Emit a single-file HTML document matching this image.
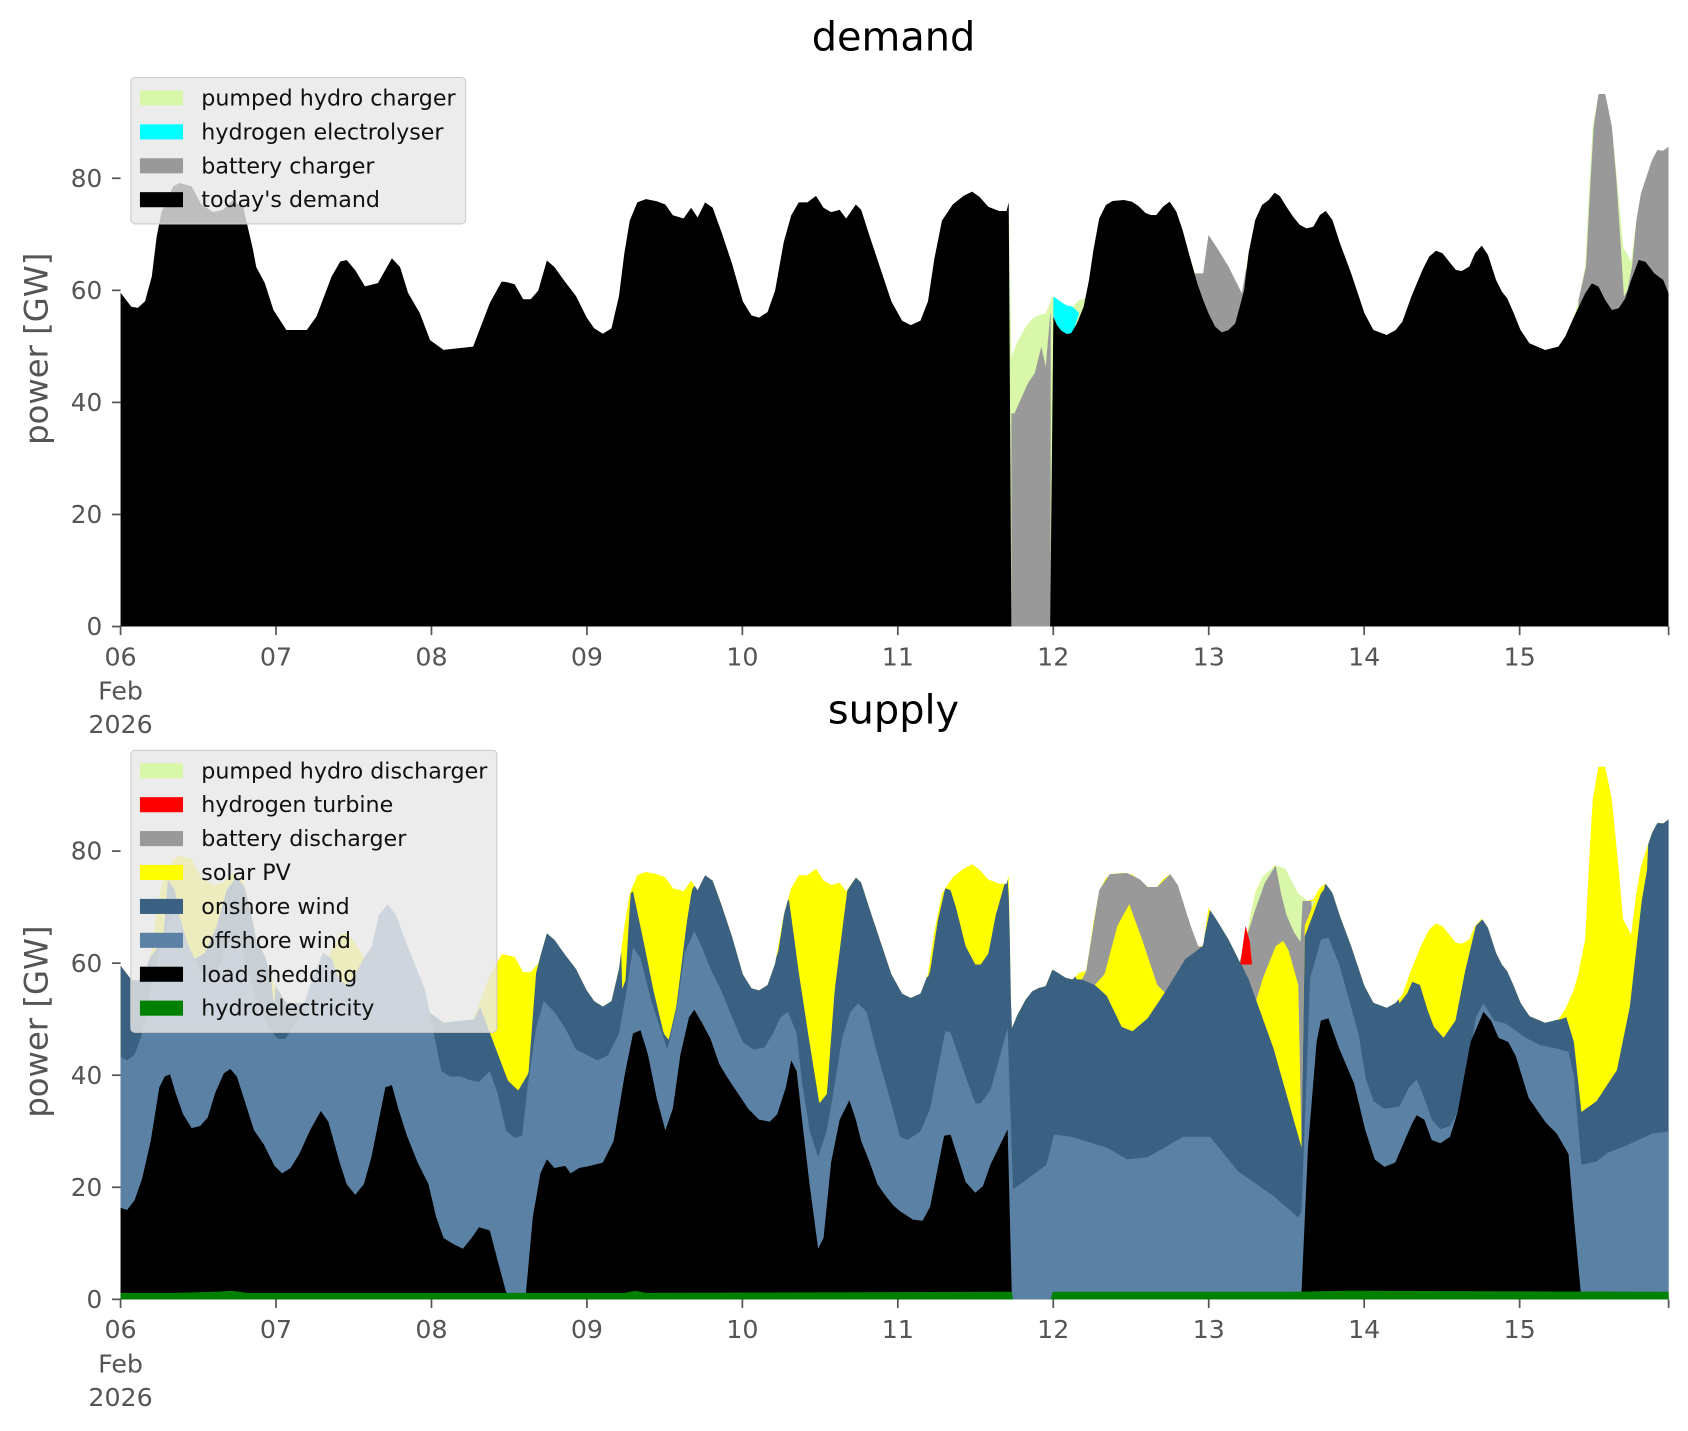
<!DOCTYPE html>
<html><head><meta charset="utf-8"><style>
html,body{margin:0;padding:0;background:#fff;}
svg{display:block;}
text{font-family:"DejaVu Sans","Liberation Sans",sans-serif;}
</style></head><body>
<svg id="s" xmlns="http://www.w3.org/2000/svg" width="1688" height="1431" viewBox="0 0 1568 1329.3" preserveAspectRatio="none">
<rect width="1568" height="1330" fill="#fff"/>
<g id="up"></g>
<g id="lo"></g>
<g id="ax"></g>
</svg>
<script>
const NS="http://www.w3.org/2000/svg";
const S=1/1.0765;
function z3(a){return a.map(([px,py])=>[(990+px*0.4458)*S,(80+py/3)*S]);}
function el(parent,tag,attrs,txt){const e=document.createElementNS(NS,tag);for(const k in attrs)e.setAttribute(k,attrs[k]);if(txt!==undefined)e.textContent=txt;document.getElementById(parent).appendChild(e);return e;}
function ptsStr(p){return p.map(q=>q[0].toFixed(1)+","+q[1].toFixed(1)).join(" ");}
function poly(g,pts,base,fill){let p=pts.slice();if(base!==null){p=p.concat([[pts[pts.length-1][0],base],[pts[0][0],base]]);}el(g,"polygon",{points:ptsStr(p),fill:fill});}
function interp(list,x){if(x<=list[0][0])return list[0][1];for(let i=1;i<list.length;i++){if(x<=list[i][0]){const a=list[i-1],b=list[i];if(b[0]===a[0])return b[1];return a[1]+(b[1]-a[1])*(x-a[0])/(b[0]-a[0]);}}return list[list.length-1][1];}

const PG="#d9f7a9",GR="#999999",ON="#3b6182",OFF="#5b82a4";
const B1=[[112,272],[122,285],[128,286],[134.7,280],[141,257],[145.5,220],[150,197],[161,173],[167,170],[178,173],[187,190],[198,197],[207,195],[216,186],[226,193],[235,232],[238,248],[246,263],[254,288],[266,306.5],[285,306.5],[294,294],[308,257],[316,243],[322,241.5],[330,251],[339,266],[351,263],[364,240],[371.6,248],[379,272],[390,291],[399.5,316],[412,325],[439.5,322],[455,281.5],[466,261.6],[470,262],[478,264],[486,278],[493,278],[500,270],[508,242],[515,248],[525,262],[535,275],[545,295],[552,305],[560,310],[568,305],[575,275],[580,235],[585,205],[592,188],[600,185],[610,187],[618,190],[625,200],[635,203],[642,193],[648,202],[655,188],[662,193],[670,215],[680,245],[690,280],[698,293],[705,295],[713,290],[720,270],[728,225],[735,200],[742,188],[750,188],[758,182],[765,193],[772,197],[780,195],[786,203],[795,190],[800,195],[808,220],[818,250],[828,280],[838,298],[846,302],[855,298],[862,280],[868,240],[875,205],[885,190],[895,182],[903,178],[910,183],[918,192],[928,196],[935,196],[937,188]];
const B2raw=[[142,710],[150,735],[160,752],[172,762],[182,760],[195,730],[210,680],[222,600],[232,510],[245,415],[260,375],[275,363],[300,360],[318,365],[333,378],[348,398],[360,405],[373,405],[388,380],[403,365],[418,395],[432,450],[448,530],[465,610],[478,660],[490,700],[505,740],[520,757],[535,750],[550,730],[560,680],[570,630],[580,520],[595,420],[610,375],[625,360],[638,338],[650,348],[665,380],[680,410],[695,435],[710,445],[725,440],[740,405],[753,393],[768,420],[785,490],[810,580],[840,700],[860,750],[890,765],[910,750],[925,725],[945,650],[970,570],[985,530],[1000,512],[1015,520],[1030,545],[1045,570],[1058,573],[1075,560],[1088,520],[1103,497],[1117,525],[1135,600],[1148,635],[1160,655],[1175,700],[1190,750],[1210,790],[1245,810],[1275,800],[1290,770],[1310,710],[1335,640],[1350,610],[1365,620],[1380,660],[1395,690],[1410,685],[1425,655],[1438,600],[1455,540],[1470,545],[1490,580],[1510,600],[1522,640]];
const gray13=[[460,580],[478,580],[490,465],[510,505],[535,560],[550,600],[565,640],[575,560]];
const endTop=[[1320,660],[1335,560],[1345,300],[1352,140],[1365,42],[1380,42],[1395,140],[1410,350],[1420,500],[1438,545],[1450,420],[1460,340],[1470,300],[1485,240],[1497,210],[1510,212],[1522,200]];
const grayEnd=[[1320,660],[1337,560],[1347,300],[1354,140],[1365,42],[1380,42],[1395,140],[1405,300],[1415,500],[1422,650],[1430,630],[1440,560],[1450,420],[1460,340],[1470,300],[1485,240],[1497,210],[1510,212],[1522,200]];
const paleU=[[48,830],[60,790],[80,740],[95,715],[110,705],[125,700],[140,650],[170,675],[185,680],[200,660],[215,655]];
const totalU=B1.concat(z3(paleU),z3(B2raw.filter(p=>p[0]>215&&p[0]<460)),z3(gray13),z3(B2raw.filter(p=>p[0]>575&&p[0]<1320)),z3(endTop));
const BU=582;
poly("up",totalU,BU,PG);
poly("up",z3([[48,1000],[55,1000],[85,910],[100,880],[115,800],[125,860],[135,700],[136,700]]),BU,GR);
poly("up",z3(gray13),BU,GR);
poly("up",z3(grayEnd),BU,GR);
el("up","polygon",{points:ptsStr(z3([[142,650],[170,675],[185,680],[200,700],[185,760],[172,762],[160,752],[150,735],[142,710]])),fill:"#00ffff"});
const blackU=B1.concat([[939.5,582],[975.5,582]],z3(B2raw));
poly("up",blackU,BU,"#000");

const base=1207;
const totalS=totalU.map(p=>[p[0],p[1]+625]);
poly("lo",totalS,base,"#ffff00");
poly("lo",[[1155,896],[1160,860],[1166,830],[1173,814],[1185,804],[1194,807],[1206,830],[1215,837],[1222,837]],base,PG);
poly("lo",[[1000,915],[1004,912],[1009,902],[1021,827],[1031,812],[1047,811],[1059,817],[1066,824],[1075,824],[1087,812],[1094,822],[1106,860],[1113,879],[1120,880]],base,GR);
poly("lo",[[1150,900],[1155,880],[1166,845],[1175,820],[1185,804],[1190,830],[1195,850],[1202,866],[1208,875],[1210,837],[1218,837],[1220,870]],base,GR);
el("lo","polygon",{points:"1152,896 1157,860 1161,875 1163,896",fill:"#ff0000"});
poly("lo",[[1017,915],[1026,905],[1038,860],[1049,840],[1061,873],[1075,915],[1082,922]],base,"#ffff00");
poly("lo",[[1160,910],[1166,932],[1173,909],[1185,879],[1192,874],[1197,883],[1206,915],[1209,1066],[1212,860],[1220,840],[1227,830]],base,"#ffff00");
const ONL=[[112.6,898],[121.2,907],[135.4,895],[151.6,873],[156,817.5],[162.6,827],[170,873],[179,892],[190.5,885],[201,861],[210.5,827],[220,814],[229,827],[238.4,861],[251,904],[254,929],[265.7,951],[277.6,942],[291.8,920],[300,910],[316,957],[325,1003],[332,1016],[339.2,982],[348.7,911],[358.2,873],[365.3,864],[374.8,880],[386.6,904],[396.1,926],[405.6,945],[417.4,957],[429.3,954],[438.7,951],[445.9,935],[453,954],[462.4,979],[471.9,1004],[481.4,1013],[490.9,997],[498,904],[507.5,866],[519.3,883],[531.2,898],[543,920],[557.2,934],[571.5,935],[581,911],[585.7,830],[588,828],[597.5,873],[607,920],[616.5,960],[621.2,966],[628.3,935],[637.8,858],[642.6,827],[652,811],[663.9,842],[675.7,873],[690,911],[701.8,921],[713.7,914],[723.1,883],[731.7,827],[742.1,904],[751.6,966],[761.1,1025],[768.2,1016],[775.3,920],[787.1,827],[796.6,813],[803.7,821],[813.2,858],[827.4,898],[836,918],[845,928],[857,922],[864,902],[871,856],[878,825],[883,827],[888,843],[897,879],[906,896],[911,896],[918,886],[925,850],[936,811],[943,959],[958,923],[972,917],[979,902],[988,909],[1005,910],[1017,915],[1028,925],[1042,954],[1052,958],[1066,946],[1082,922],[1101,891],[1117,879],[1124,845],[1141,871],[1160,910],[1183,974],[1209,1066],[1212,870],[1227,830],[1234,821],[1240,830],[1249,856],[1258,883],[1268,909],[1277,928],[1286,935],[1300,932],[1307,923],[1312,912],[1319,915],[1326,938],[1332,954],[1341,964],[1352,948],[1361,902],[1371,860],[1378,853],[1385,863],[1392,883],[1403,902],[1417,935],[1427,948],[1436,950],[1446,948],[1455,945],[1462,968],[1469,1033],[1483,1023],[1502,994],[1514,935],[1525,837],[1535,778],[1542,763],[1550,762]];
const WIN=[[140,255],[296,352],[440,505],[578,650],[722,800],[862,940],[1000,1230],[1300,1385],[1448,1530]];
const onPts=[];
for(let x=112;x<=1550;x+=1){const t=interp(totalS,x);let y=t;if(WIN.some(w=>x>=w[0]&&x<=w[1])){y=Math.max(interp(ONL,x),t);}onPts.push([x,y]);}
poly("lo",onPts,base,ON);
const OFFL=[[112,982],[118,985],[125,980],[132,960],[140,920],[148,885],[155,858],[162,848],[168,855],[175,878],[185,900],[195,910],[205,895],[214,870],[222,870],[230,900],[240,935],[250,955],[258,965],[265,965],[272,955],[280,940],[290,910],[300,885],[308,890],[315,910],[322,915],[330,905],[338,890],[345,880],[352,850],[360,840],[368,850],[375,870],[385,895],[395,920],[402,955],[410,995],[418,1000],[428,1000],[435,1003],[445,1005],[455,995],[462,1015],[470,1050],[478,1057],[485,1055],[490,1010],[498,955],[505,930],[515,940],[525,955],[535,975],[545,980],[555,985],[565,980],[575,960],[582,920],[588,880],[595,890],[605,930],[615,960],[620,975],[628,940],[636,885],[645,865],[652,880],[660,900],[670,920],[680,945],[690,968],[700,975],[710,973],[718,960],[725,945],[732,940],[740,960],[745,1005],[752,1050],[760,1075],[768,1050],[775,1010],[782,965],[790,940],[797,932],[805,940],[813,972],[827,1022],[836,1056],[843,1059],[855,1051],[864,1030],[878,958],[883,959],[897,1000],[906,1025],[911,1025],[920,1013],[936,955],[941,1105],[972,1082],[979,1054],[995,1056],[1028,1066],[1047,1077],[1066,1075],[1099,1056],[1124,1056],[1150,1088],[1183,1111],[1206,1131],[1209,1125],[1217,909],[1227,873],[1234,871],[1244,896],[1253,928],[1262,961],[1269,1003],[1276,1023],[1286,1030],[1300,1028],[1309,1010],[1316,1003],[1323,1020],[1330,1040],[1338,1049],[1347,1046],[1354,1033],[1364,987],[1371,945],[1378,932],[1388,948],[1399,951],[1417,964],[1431,971],[1446,974],[1457,977],[1462,1000],[1469,1082],[1483,1079],[1493,1071],[1511,1064],[1535,1053],[1550,1051]];
poly("lo",OFFL,base,OFF);
const BLK=[[112,1122],[118,1124],[125,1115],[132,1095],[140,1060],[148,1010],[153,1000],[158,998],[163,1015],[170,1035],[178,1048],[186,1046],[193,1038],[200,1015],[208,997],[214,993],[220,1000],[228,1025],[236,1050],[245,1063],[255,1083],[262,1090],[270,1085],[278,1072],[288,1050],[298,1032],[305,1042],[315,1078],[322,1100],[330,1110],[338,1100],[345,1075],[352,1040],[358,1010],[364,1008],[370,1030],[378,1055],[388,1080],[398,1100],[405,1130],[412,1150],[420,1155],[430,1160],[438,1150],[445,1140],[455,1143],[462,1170],[470,1200],[475,1207],[488,1207],[495,1130],[502,1090],[508,1077],[515,1085],[525,1083],[530,1090],[538,1085],[548,1083],[560,1080],[570,1060],[580,1000],[588,960],[595,957],[602,980],[610,1020],[618,1050],[625,1030],[632,980],[640,945],[645,938],[652,950],[660,965],[668,988],[675,1000],[685,1015],[695,1030],[705,1040],[715,1042],[722,1035],[730,1010],[735,985],[740,995],[745,1040],[752,1100],[760,1160],[765,1150],[772,1080],[780,1040],[789,1022],[795,1040],[800,1060],[808,1080],[815,1100],[822,1110],[830,1120],[836,1125],[848,1133],[857,1134],[864,1121],[877,1055],[883,1054],[897,1098],[906,1108],[913,1102],[920,1082],[936,1049],[940,1207],[1207,1207],[1209,1200],[1215,1066],[1223,968],[1227,948],[1234,946],[1244,974],[1258,1007],[1268,1049],[1277,1077],[1286,1084],[1296,1080],[1305,1059],[1312,1043],[1316,1036],[1323,1040],[1330,1059],[1338,1062],[1347,1056],[1354,1033],[1366,968],[1378,940],[1385,948],[1392,964],[1401,968],[1408,981],[1420,1020],[1436,1043],[1446,1053],[1457,1072],[1462,1131],[1469,1207],[1550,1207]];
poly("lo",BLK,base,"#000");
el("lo","polygon",{points:"112,1201 160,1201 200,1200 215,1199 230,1201 580,1201 590,1199 600,1201 940,1200 941,1207 976,1207 978,1200 1200,1200 1250,1199 1550,1200 1550,1207 112,1207",fill:"#008000"});

function axes(y0){
  for(let v=0;v<=80;v+=20){const y=y0-v*5.205;el("ax","line",{x1:104,y1:y,x2:112,y2:y,stroke:"#555","stroke-width":1.6});
    el("ax","text",{x:95,y:y+8,"text-anchor":"end","font-size":23,fill:"#555"},String(v));}
  const days=["06","07","08","09","10","11","12","13","14","15"];
  for(let k=0;k<10;k++){const x=112+144.4*k;el("ax","line",{x1:x,y1:y0,x2:x,y2:y0+8,stroke:"#555","stroke-width":1.6});
    el("ax","text",{x:x,y:y0+36,"text-anchor":"middle","font-size":23.5,fill:"#555"},days[k]);}
  el("ax","line",{x1:1550,y1:y0,x2:1550,y2:y0+8,stroke:"#555","stroke-width":1.6});
  el("ax","text",{x:112,y:y0+68,"text-anchor":"middle","font-size":23.5,fill:"#555"},"Feb");
  el("ax","text",{x:112,y:y0+99,"text-anchor":"middle","font-size":23.5,fill:"#555"},"2026");
  const yc=y0-258;
  el("ax","text",{x:0,y:0,"text-anchor":"middle","font-size":30,fill:"#555",transform:"translate(44,"+yc+") rotate(-90)"},"power [GW]");
}
axes(582);axes(1207);
el("ax","text",{x:830,y:47,"text-anchor":"middle","font-size":37,fill:"#000"},"demand");
el("ax","text",{x:830,y:672,"text-anchor":"middle","font-size":37,fill:"#000"},"supply");
function legend(x,y,w,items){
  const h=items.length*31.5+10;
  el("ax","rect",{x:x,y:y,width:w,height:h,rx:4,fill:"#e8e8e8","fill-opacity":0.82,stroke:"#cccccc","stroke-width":1});
  items.forEach((it,i)=>{const cy=y+19+i*31.5;
    el("ax","rect",{x:130,y:cy-7,width:40,height:14,fill:it[1]});
    el("ax","text",{x:187,y:cy+7,"font-size":20.6,fill:"#111"},it[0]);});
}
legend(121.5,72,311,[["pumped hydro charger",PG],["hydrogen electrolyser","#00ffff"],["battery charger",GR],["today's demand","#000"]]);
legend(121.5,697,340,[["pumped hydro discharger",PG],["hydrogen turbine","#ff0000"],["battery discharger",GR],["solar PV","#ffff00"],["onshore wind",ON],["offshore wind",OFF],["load shedding","#000"],["hydroelectricity","#008000"]]);
</script>
</body></html>
